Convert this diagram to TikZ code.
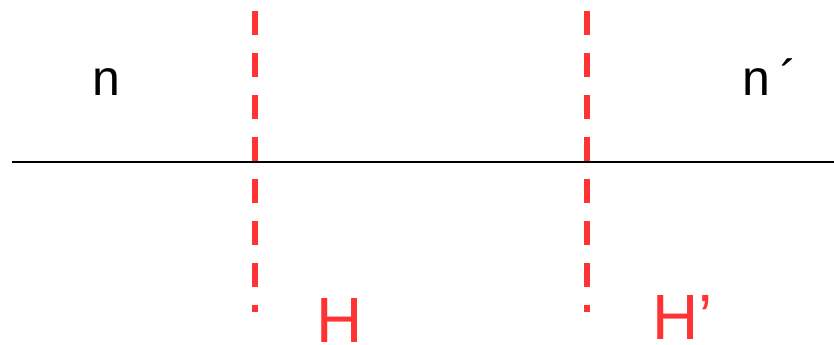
\documentclass[tikz,border=0pt]{standalone}
\usepackage{fontspec}
\setmainfont{Liberation Sans}
\definecolor{hred}{RGB}{255,51,51}
\begin{document}
\begin{tikzpicture}[x=0.75pt,y=-0.75pt,
  axisline/.style={line width=1.5pt,black},
  planeline/.style={line width=4.5pt,hred,dash pattern=on 18pt off 13.5pt},
  medium/.style={inner sep=0pt,anchor=base west,font=\fontsize{37.5}{40}\selectfont},
  planelabel/.style={inner sep=0pt,anchor=base west,text=hred,font=\fontsize{48}{52}\selectfont}]
\useasboundingbox (0,0) rectangle (834,344);
\coordinate (axL) at (12,161.5);
\coordinate (axR) at (834,161.5);
\coordinate (h1t) at (255,10.7);
\coordinate (h1b) at (255,312);
\coordinate (h2t) at (587,10.7);
\coordinate (h2b) at (587,312);
\draw[axisline] (axL) -- (axR);
\draw[planeline] (h1t) -- (h1b);
\draw[planeline] (h2t) -- (h2b);
\node[medium] (n1) at (92,95) {n};
\node[medium] (n2) at (742,95) {n\kern 0.2em´};
\node[planelabel] (H1) at (316,342) {H};
\node[planelabel] (H2) at (652,339) {H’};
\end{tikzpicture}
\end{document}
